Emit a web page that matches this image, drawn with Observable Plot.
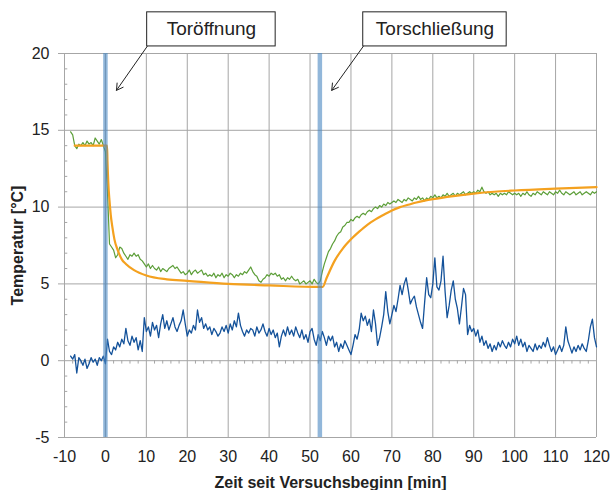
<!DOCTYPE html>
<html><head><meta charset="utf-8">
<script src="https://cdn.jsdelivr.net/npm/d3@7"></script>
<script src="https://cdn.jsdelivr.net/npm/@observablehq/plot@0.6"></script>
<style>
body{margin:0;background:#fff}
svg{font-family:"Liberation Sans",Arial,sans-serif}
</style>
</head><body><div id="chart"></div>
<script>
// Sampling: every 0.5 min from -8.5 to 120
const sampleStart = -8.5, sampleStep = 0.5;

// Green: measured hall temperature [°C]
const hallTemp = [
  14.9, 14.7, 14.0, 13.8, 14.1, 14.0, 14.2,                 // -8.5 .. -5.5
  14.0, 14.3, 14.1, 14.2, 14.0, 14.5, 14.3, 14.1, 14.4, 14.0, // -5 .. -0.5
  13.6, 11.0, 7.6, 7.4, 7.2, 6.7, 6.9, 7.4, 7.3, 7.0,       // 0 .. 4.5
  6.8, 6.6, 6.9, 6.8, 7.0, 6.8, 6.9, 6.6, 6.5, 6.3,         // 5
  6.1, 6.3, 6.0, 6.2, 6.0, 5.9, 6.1, 5.8, 6.0, 5.9,         // 10
  5.8, 6.0, 6.1, 6.2, 6.0, 6.1, 5.9, 5.7, 5.8, 5.6,         // 15
  5.7, 5.9, 5.6, 5.8, 5.9, 5.7, 5.8, 5.9, 5.6, 5.7,         // 20
  5.5, 5.6, 5.5, 5.7, 5.4, 5.6, 5.5, 5.7, 5.4, 5.6,         // 25
  5.5, 5.7, 5.6, 5.4, 5.6, 5.5, 5.7, 5.6, 5.8, 5.7,         // 30
  5.9, 6.1, 5.8, 5.6, 5.5, 5.2, 5.1, 5.3, 5.4, 5.6,         // 35
  5.5, 5.7, 5.6, 5.7, 5.5, 5.6, 5.3, 5.4, 5.2, 5.4,         // 40
  5.3, 5.5, 5.3, 5.2, 5.3, 5.0, 5.1, 5.2, 5.0, 5.1,         // 45
  5.2, 5.0, 5.3, 5.1, 5.0, 5.2, 5.8, 6.3, 6.7, 7.1,         // 50
  7.3, 7.6, 7.8, 8.1, 8.3, 8.4, 8.7, 8.8, 9.0, 9.0,         // 55
  9.2, 9.1, 9.3, 9.4, 9.3, 9.5, 9.6, 9.5, 9.7, 9.8,         // 60
  9.7, 9.9, 10.0, 9.9, 10.1, 10.0, 10.2, 10.1, 10.3, 10.2,  // 65
  10.3, 10.4, 10.3, 10.5, 10.4, 10.3, 10.5, 10.4, 10.6, 10.5, // 70
  10.4, 10.6, 10.5, 10.7, 10.5, 10.6, 10.4, 10.6, 10.5, 10.7, // 75
  10.6, 10.8, 10.6, 10.7, 10.6, 10.8, 10.7, 10.9, 10.7, 10.8, // 80
  10.9, 10.7, 10.9, 10.8, 10.9, 11.0, 10.8, 10.9, 11.0, 10.9, // 85
  11.0, 10.9, 11.1, 11.0, 11.3, 11.0, 10.9, 11.0, 10.8, 10.9, // 90
  10.8, 10.9, 10.7, 10.9, 10.8, 10.9, 10.8, 11.0, 10.9, 10.8, // 95
  10.9, 10.8, 10.9, 10.7, 10.9, 10.8, 11.0, 10.8, 10.7, 10.9, // 100
  10.8, 11.0, 10.9, 10.8, 11.0, 10.9, 10.8, 11.0, 10.9, 10.8, // 105
  11.0, 10.9, 11.1, 10.9, 10.8, 11.0, 10.9, 10.8, 10.9, 11.0, // 110
  10.8, 10.9, 11.0, 10.8, 10.9, 11.0, 10.9, 10.8, 11.0, 10.9, // 115
  11.0                                                      // 120
];

// Blue: second measured series [°C]
const blueTemp = [
  0.3, 0.1, 0.4, -0.8, 0.2, 0.0, -0.3,                      // -8.5 .. -5.5
  0.1, -0.5, -0.2, 0.2, -0.1, 0.1, -0.3, 0.2, 0.0, 0.3,     // -5
  -0.2, 1.4, 0.6, 0.4, 0.9, 0.7, 1.2, 0.9, 1.4, 1.1,        // 0
  2.1, 1.3, 1.0, 1.6, 1.2, 1.5, 0.7, 1.3, 0.6, 2.8,         // 5
  1.9, 2.2, 1.6, 2.5, 2.0, 2.3, 1.5, 2.4, 3.0, 2.1,         // 10
  2.6, 2.0, 2.4, 2.8, 2.2, 1.9, 2.3, 2.6, 3.3, 2.4,         // 15
  1.6, 2.0, 1.8, 2.3, 2.0, 3.3, 2.5, 2.8, 2.1, 2.4,         // 20
  2.0, 2.2, 1.7, 2.1, 1.9, 1.6, 1.8, 2.2, 1.9, 2.3,         // 25
  1.8, 2.4, 2.0, 2.6, 2.2, 3.1, 2.3, 1.9, 1.6, 2.0,         // 30
  1.8, 2.1, 2.0, 1.6, 2.2, 1.8, 2.0, 2.4, 1.9, 1.6,         // 35
  2.1, 1.7, 2.0, 1.5, 1.8, 0.9, 1.6, 2.0, 1.6, 2.2,         // 40
  1.7, 2.0, 1.6, 2.2, 1.8, 1.5, 2.0, 1.4, 1.7, 1.2,         // 45
  1.9, 2.1, 1.4, 1.0, 1.7, 1.3, 1.9, 1.5, 1.0, 1.6,         // 50
  1.3, 1.6, 0.9, 1.2, 0.6, 1.1, 0.8, 1.3, 1.0, 0.7,         // 55
  0.4, 1.0, 1.7, 1.4, 2.0, 3.1, 2.6, 2.9, 2.3, 2.7,         // 60
  1.9, 3.3, 2.4, 1.0, 1.5, 2.2, 3.0, 4.5, 3.2, 2.4,         // 65
  3.0, 3.6, 3.2, 4.0, 4.9, 4.3, 5.0, 5.4, 4.6, 3.7,         // 70
  4.0, 4.2, 3.5, 3.0, 2.5, 2.1, 3.8, 5.4, 4.3, 4.1,         // 75
  5.0, 6.7, 4.8, 4.6, 5.2, 6.8, 4.5, 2.8, 3.6, 4.6,         // 80
  5.2, 4.0, 3.4, 2.4, 3.5, 4.7, 4.3, 1.7, 2.3, 1.9,         // 85
  2.1, 1.6, 2.0, 1.2, 1.6, 1.0, 1.3, 0.8, 1.1, 0.6,         // 90
  1.0, 0.7, 1.2, 0.9, 1.3, 1.0, 0.8, 1.2, 0.9, 1.4,         // 95
  1.1, 1.6, 1.0, 1.4, 0.9, 1.2, 0.6, 1.0, 0.8, 0.6,         // 100
  1.1, 0.7, 1.0, 0.8, 1.2, 0.9, 1.5, 1.0, 0.6, 0.9,         // 105
  0.4, 0.7, 1.0, 0.6, 1.0, 2.2, 1.3, 0.9, 0.5, 0.9,         // 110
  0.6, 1.0, 0.7, 1.1, 0.8, 0.6, 1.3, 2.2, 2.7, 1.5,         // 115
  0.9                                                       // 120
];

// Orange: model curve
const modelTime = [-7.5, 0, 0.4, 0.5, 0.7, 1.0, 1.3, 1.7, 2.2, 3, 4, 5, 7, 10, 15, 20, 30, 40, 52.5, 53.1, 54, 56, 58, 60, 62, 64, 66, 68, 70, 72, 74, 76, 78, 80, 85, 90, 95, 100, 110, 120];
const modelTemp = [14.0, 14.0, 14.0, 13.0, 11.6, 10.4, 9.5, 8.7, 7.9, 7.2, 6.6, 6.3, 5.9, 5.55, 5.3, 5.2, 5.0, 4.9, 4.8, 4.8, 5.35, 6.5, 7.3, 7.9, 8.4, 8.85, 9.2, 9.5, 9.78, 10.0, 10.15, 10.3, 10.42, 10.52, 10.72, 10.88, 11.0, 11.08, 11.2, 11.3];

// Door events [min]
const eventTimes = [0, 52.4];

// Ticks
const xTicks = [-10, 0, 10, 20, 30, 40, 50, 60, 70, 80, 90, 100, 110, 120];
const yTicks = [-5, 0, 5, 10, 15, 20];
const yMinor = [-4, -3, -2, -1, 1, 2, 3, 4, 6, 7, 8, 9, 11, 12, 13, 14, 16, 17, 18, 19];
const xMinor = d3.range(-8, 120, 2).filter(v => v % 10 !== 0);

// Callouts (in data units)
const callouts = [
  {label: "Toröffnung", x1: 10.2, x2: 41.6, y1: 20.46, y2: 22.68, tx: 2.7, ty: 17.6},
  {label: "Torschließung", x1: 63.0, x2: 98.05, y1: 20.46, y2: 22.68, tx: 55.3, ty: 17.6}
];

const mk = vals => vals.map((v, i) => ({t: sampleStart + i * sampleStep, v}));
const hall = mk(hallTemp), blue = mk(blueTemp);
const model = modelTime.map((t, i) => ({t, v: modelTemp[i]}));

const grid = "#a6a6a6";
const fmt = d => String(d);
const chart = Plot.plot({
  width: 614, height: 490,
  marginLeft: 64, marginRight: 18, marginTop: 53, marginBottom: 53,
  style: {fontFamily: "Liberation Sans, Arial, sans-serif", color: "#222", background: "#fff", overflow: "visible"},
  x: {domain: [-10, 120], axis: null},
  y: {domain: [-5, 20], axis: null},
  marks: [
    Plot.ruleX(xTicks, {stroke: grid, strokeWidth: 1}),
    Plot.ruleY(yTicks, {stroke: grid, strokeWidth: 1}),
    Plot.ruleY(yMinor, {x1: -10, x2: -9.2, stroke: grid}),
    Plot.ruleX(xMinor, {y1: 0, y2: -0.22, stroke: grid}),
    Plot.line(blue, {x: "t", y: "v", stroke: "#14529a", strokeWidth: 1.3}),
    Plot.line(hall, {x: "t", y: "v", stroke: "#5c9e38", strokeWidth: 1.2}),
    Plot.line(model, {x: "t", y: "v", stroke: "#f4a11f", strokeWidth: 2.2, curve: "monotone-x"}),
    Plot.ruleX(eventTimes, {stroke: "#4a87c2", strokeOpacity: 0.6, strokeWidth: 4.5}),
    Plot.axisY(yTicks, {tickSize: 6, tickPadding: 9, fontSize: 16, stroke: grid, fill: "#222", label: null, tickFormat: fmt}),
    Plot.axisX(xTicks, {tickSize: 0, tickPadding: 13, fontSize: 16, fill: "#222", label: null, tickFormat: fmt}),
    Plot.text(["Zeit seit Versuchsbeginn [min]"], {frameAnchor: "bottom", dy: 45, lineAnchor: "middle", textAnchor: "middle", fontWeight: "bold", fontSize: 16, fill: "#222"}),
    Plot.text(["Temperatur [°C]"], {frameAnchor: "left", dx: -47, rotate: -90, textAnchor: "middle", lineAnchor: "middle", fontWeight: "bold", fontSize: 16, fill: "#222"}),
    Plot.arrow(callouts, {x1: "x1", y1: "y1", x2: "tx", y2: "ty", stroke: "#222", strokeWidth: 1, headLength: 11, bend: 0}),
    Plot.rect(callouts, {x1: "x1", x2: "x2", y1: "y1", y2: "y2", fill: "white", stroke: "#222", strokeWidth: 1}),
    Plot.text(callouts, {x: d => (d.x1 + d.x2) / 2, y: d => (d.y1 + d.y2) / 2, text: "label", fontSize: 19, fill: "#222"})
  ]
});
document.getElementById("chart").appendChild(chart);
</script>
</body></html>
